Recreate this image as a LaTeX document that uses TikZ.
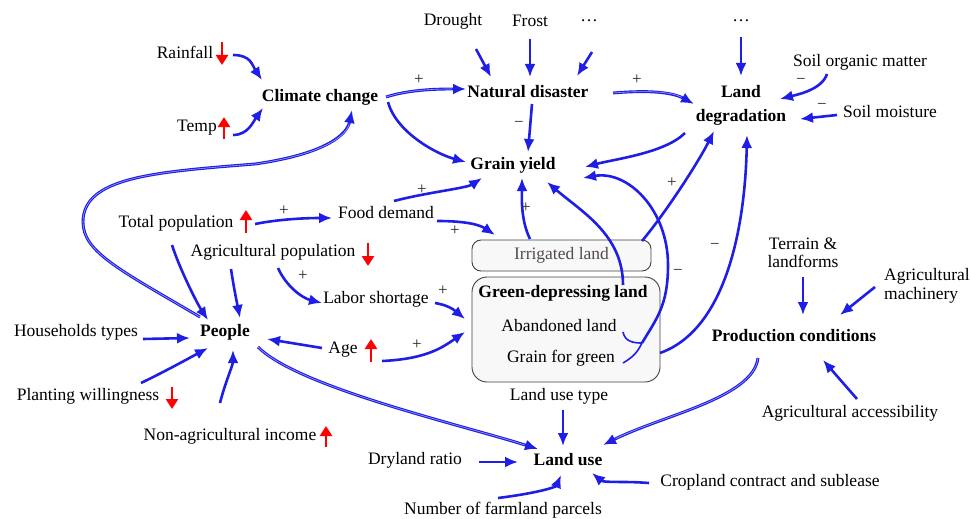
\documentclass[tikz,border=0pt]{standalone}
\usepackage{fontspec}
\setmainfont{Liberation Serif}
\usetikzlibrary{arrows.meta}
\definecolor{arrblue}{RGB}{30,30,230}
\definecolor{arrlight}{RGB}{160,160,245}
\definecolor{boxfill}{RGB}{248,248,248}
\definecolor{irrtext}{RGB}{85,75,75}
\begin{document}
\begin{tikzpicture}[x=1pt,y=-1pt,
  every node/.style={font=\fontsize{17.5}{21}\selectfont, inner sep=1pt},
  bnode/.style={font=\fontsize{17.5}{21}\selectfont\bfseries},
  ar/.style={draw=arrblue, line width=2.6pt, -{Latex[length=13pt,width=11pt]}},
  dbl/.style={draw=arrblue, line width=2.9pt, -{Latex[length=13pt,width=11pt]}, postaction={draw=arrlight, line width=0.6pt, -, shorten >=14pt}},
  thinln/.style={draw=arrblue, line width=1.6pt},
  sg/.style={font=\fontsize{17}{18}\selectfont, inner sep=0pt, text=black!85},
  upar/.style={draw=red, line width=2.8pt, -{Triangle[length=10pt,width=12pt]}},
  lbox/.style={draw=black!75, line width=0.9pt, fill=boxfill},
]
\useasboundingbox (0,0) rectangle (970,519);

% boxes
\node[lbox, rounded corners=9pt, minimum width=179pt, minimum height=31pt, text=irrtext] (irr) at (561.5,255.5) {Irrigated land};
\node[lbox, rounded corners=15pt, minimum width=188pt, minimum height=105pt] (gdl) at (566,329.5) {};
\node[bnode] (gdlt) at (563,293) {Green-depressing land};
\node (ab) at (559,326) {Abandoned land};
\node (gfg) at (561,358) {Grain for green};

% nodes
\node (rain) at (185,52) {Rainfall};
\node (temp) at (197,128) {Temp};
\node[bnode] (cc) at (320,97) {Climate change};
\node[bnode] (nd) at (528,92) {Natural disaster};
\node (dr) at (453,21) {Drought};
\node (fr) at (530,21) {Frost};
\node (d1) at (589,21) {\dots};
\node (d2) at (741,21) {\dots};
\node[bnode, align=center] (ld) at (741,105) {Land\\[3pt]degradation};
\node (som) at (860,62) {Soil organic matter};
\node (sm) at (890,112) {Soil moisture};
\node[bnode] (gy) at (513,165) {Grain yield};
\node (tp) at (176,223) {Total population};
\node (fd) at (386,213) {Food demand};
\node (ap) at (273,252) {Agricultural population};
\node (ls) at (376,299) {Labor shortage};
\node (lut) at (559,396) {Land use type};
\node[bnode] (lu) at (568,460) {Land use};
\node (dry) at (415,460) {Dryland ratio};
\node (ccs) at (770,482) {Cropland contract and sublease};
\node (nfp) at (503,510) {Number of farmland parcels};
\node[bnode] (pc) at (794,336) {Production conditions};
\node[align=center, font=\fontsize{17.5}{18}\selectfont] (ter) at (803,253) {Terrain \&\\landforms};
\node[align=left, font=\fontsize{17.5}{19}\selectfont] (am) at (927,286) {Agricultural\\machinery};
\node (aa) at (850,413) {Agricultural accessibility};
\node[bnode] (pe) at (225,332) {People};
\node (ht) at (76,332) {Households types};
\node (age) at (343,350) {Age};
\node (pw) at (88,396) {Planting willingness};
\node (nai) at (230,436) {Non-agricultural income};

% red trend arrows
\draw[upar] ([shift={(37,-10)}]rain.center) -- ++(0,23);
\draw[upar] ([shift={(27,11)}]temp.center) -- ++(0,-22);
\draw[upar] ([shift={(70,10)}]tp.center) -- ++(0,-23);
\draw[upar] ([shift={(95,-9)}]ap.center) -- ++(0,23);
\draw[upar] ([shift={(28,12)}]age.center) -- ++(0,-23);
\draw[upar] ([shift={(84,-9)}]pw.center) -- ++(0,22);
\draw[upar] ([shift={(96,11)}]nai.center) -- ++(0,-21);

% climate
\draw[ar] ([shift={(48,3)}]rain.center) .. controls +(18,0) and +(-10,-15) .. ([shift={(-58,-17)}]cc.center);
\draw[ar] ([shift={(36,7)}]temp.center) .. controls +(15,0) and +(-10,14) .. ([shift={(-57,11)}]cc.center);
\draw[dbl] ([shift={(66,0)}]cc.center) .. controls +(25,-8) and +(-25,0) .. ([shift={(-62,-3)}]nd.center);
\draw[ar] ([shift={(68,5)}]cc.center) .. controls +(8,30) and +(-30,-8) .. ([shift={(-47,-3)}]gy.center);

% natural disaster
\draw[ar] ([shift={(23,28)}]dr.center) -- ([shift={(-37,-15)}]nd.center);
\draw[ar] ([shift={(0,18)}]fr.center) -- ([shift={(2,-15)}]nd.center);
\draw[ar] ([shift={(3,31)}]d1.center) -- ([shift={(49,-16)}]nd.center);
\draw[ar] ([shift={(4,12)}]nd.center) -- ([shift={(15,-13)}]gy.center);
\draw[dbl] ([shift={(85,1)}]nd.center) .. controls +(35,-3) and +(-22,-12) .. ([shift={(-47,-1)}]ld.center);

% land degradation
\draw[ar] ([shift={(0,16)}]d2.center) -- ([shift={(0,-29)}]ld.center);
\draw[ar] ([shift={(-33,12)}]som.center) .. controls +(-5,15) and +(20,-5) .. ([shift={(39,-6)}]ld.center);
\draw[ar] ([shift={(-53,3)}]sm.center) -- ([shift={(59,14)}]ld.center);
\draw[ar] ([shift={(-56,28)}]ld.center) .. controls +(-20,20) and +(30,-8) .. ([shift={(72,2)}]gy.center);

% population
\draw[ar] ([shift={(79,1)}]tp.center) .. controls +(25,-5) and +(-25,0) .. ([shift={(-54,5)}]fd.center);
\draw[ar] ([shift={(8,-12)}]fd.center) .. controls +(30,-8) and +(-15,10) .. ([shift={(-31,13)}]gy.center);
\draw[ar] ([shift={(51,8)}]fd.center) .. controls +(30,0) and +(-15,-10) .. ([shift={(-66.5,-20.5)}]irr.center);
\draw[ar] ([shift={(-31.5,-16.5)}]irr.center) .. controls +(-10,-20) and +(0,15) .. ([shift={(9,13)}]gy.center);
\draw[ar] ([shift={(80.5,-14.5)}]irr.center) .. controls +(25,-30) and +(-15,30) .. ([shift={(-27,26)}]ld.center);
\draw[ar] ([shift={(57,-44.5)}]gdl.center) .. controls +(0,-50) and +(35,30) .. ([shift={(34,17)}]gy.center);
\draw[thinln] ([shift={(64,6)}]ab.center) .. controls +(2,10) and +(-8,0) .. ([shift={(76,13.5)}]gdl.center);
\draw[thinln] ([shift={(62,5)}]gfg.center) .. controls +(10,-6) and +(-5,10) .. ([shift={(76,13.5)}]gdl.center);
\draw[ar] ([shift={(76,13.5)}]gdl.center) .. controls +(15,-25) and +(0,40) .. ([shift={(102,-64.5)}]gdl.center) .. controls +(0,-55) and +(45,-8) .. ([shift={(70,13)}]gy.center);
\draw[ar] ([shift={(94,23.5)}]gdl.center) .. controls +(65,-23) and +(-2,95) .. ([shift={(6,30)}]ld.center);

\draw[ar] ([shift={(59,4)}]ls.center) .. controls +(12,2) and +(-12,-10) .. ([shift={(-101,-10.5)}]gdl.center);
\draw[ar] ([shift={(39,11)}]age.center) .. controls +(45,-2) and +(-22,15) .. ([shift={(-101,2.5)}]gdl.center);
\draw[ar] ([shift={(-21,-2)}]age.center) -- ([shift={(42,7)}]pe.center);
\draw[ar] ([shift={(5,16)}]ap.center) .. controls +(8,18) and +(-20,-5) .. ([shift={(-54,4)}]ls.center);
\draw[ar] ([shift={(-42,17)}]ap.center) .. controls +(3,20) and +(-3,-15) .. ([shift={(15,-14)}]pe.center);
\draw[ar] ([shift={(-4,22)}]tp.center) .. controls +(8,25) and +(-10,-15) .. ([shift={(-17,-12)}]pe.center);
\draw[ar] ([shift={(67,7)}]ht.center) -- ([shift={(-35,6)}]pe.center);
\draw[ar] ([shift={(53,-13)}]pw.center) .. controls +(25,-12) and +(-15,8) .. ([shift={(-17,16)}]pe.center);
\draw[ar] ([shift={(-10,-33)}]nai.center) .. controls +(5,-20) and +(0,15) .. ([shift={(8,18)}]pe.center);

% people loops
\draw[dbl] ([shift={(-25,-15)}]pe.center) .. controls +(-80,-47) and +(0,30) .. ([shift={(-142,-110)}]pe.center) .. controls +(0,-45) and +(-100,8) .. ([shift={(30,-168)}]pe.center) .. controls +(70,-10) and +(-5,25) .. ([shift={(32,13)}]cc.center);
\draw[dbl] ([shift={(33,15)}]pe.center) .. controls +(40,40) and +(-80,-25) .. ([shift={(-30,-11)}]lu.center);

% land use
\draw[ar] ([shift={(4,14)}]lut.center) -- ([shift={(-5,-14)}]lu.center);
\draw[dbl] ([shift={(-36,22)}]pc.center) .. controls +(-5,40) and +(60,-30) .. ([shift={(35,-15)}]lu.center);
\draw[ar] ([shift={(64,2)}]dry.center) -- ([shift={(-50,2)}]lu.center);
\draw[ar] ([shift={(-121,1)}]ccs.center) .. controls +(-25,-2) and +(12,10) .. ([shift={(24,13)}]lu.center);
\draw[ar] ([shift={(-5,-12)}]nfp.center) .. controls +(40,-5) and +(-5,12) .. ([shift={(-7,15)}]lu.center);

% production
\draw[ar] ([shift={(0,24)}]ter.center) -- ([shift={(9,-21)}]pc.center);
\draw[ar] ([shift={(-52,1)}]am.center) -- ([shift={(46,-21)}]pc.center);
\draw[ar] ([shift={(7,-14)}]aa.center) -- ([shift={(29,24)}]pc.center);

% signs
\node[sg] (s1) at (419,80) {+};
\node[sg] (s2) at (519,124) {−};
\node[sg] (s3) at (637,80) {+};
\node[sg] (s4) at (801,81) {−};
\node[sg] (s5) at (822,106) {−};
\node[sg] (s6) at (284,211) {+};
\node[sg] (s7) at (422,190) {+};
\node[sg] (s8) at (455,231) {+};
\node[sg] (s9) at (526,208) {+};
\node[sg] (s10) at (672,183) {+};
\node[sg] (s11) at (678,272) {−};
\node[sg] (s12) at (715,246) {−};
\node[sg] (s13) at (303,276) {+};
\node[sg] (s14) at (443,291) {+};
\node[sg] (s15) at (417,345) {+};
\end{tikzpicture}
\end{document}
